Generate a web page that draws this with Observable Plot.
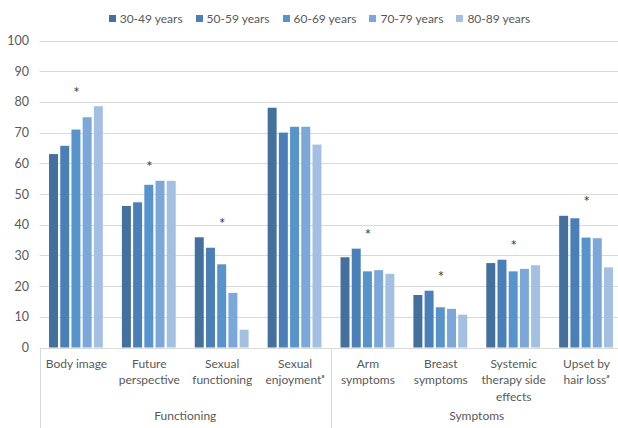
<!DOCTYPE html>
<html>
<head>
<meta charset="utf-8">
<script src="https://cdn.jsdelivr.net/npm/d3@7"></script>
<script src="https://cdn.jsdelivr.net/npm/@observablehq/plot@0.6"></script>
<style>
  html, body { margin: 0; padding: 0; background: #fff; }
  #chart { width: 618px; height: 428px; overflow: hidden; font-family: Lato, sans-serif; color: #595959; }
  #chart svg { display: block; }
</style>
</head>
<body>
<div id="chart"></div>
<script>
// Scale domains and categories
const ageGroups = ["30-49 years", "50-59 years", "60-69 years", "70-79 years", "80-89 years"];
const categories = [
  "Body image",
  "Future\nperspective",
  "Sexual\nfunctioning",
  "Sexual\nenjoymentᵃ",
  "Arm\nsymptoms",
  "Breast\nsymptoms",
  "Systemic\ntherapy side\neffects",
  "Upset by\nhair lossᵃ"
];
const scaleGroups = ["Functioning", "Symptoms"];
const groupOfCategory = [0, 0, 0, 0, 1, 1, 1, 1];

// Mean scores per age group, one value per category
const age30to49 = [63.0, 46.1, 35.9, 78.1, 29.4, 17.1, 27.5, 42.9];
const age50to59 = [65.7, 47.3, 32.5, 70.0, 32.2, 18.5, 28.6, 42.1];
const age60to69 = [71.0, 53.0, 27.1, 71.9, 24.8, 13.1, 24.8, 35.8];
const age70to79 = [75.0, 54.3, 17.8, 71.9, 25.2, 12.6, 25.6, 35.6];
const age80to89 = [78.6, 54.3, 5.8, 66.1, 24.0, 10.7, 26.8, 26.1];

// Significant differences between age groups (marked with *)
const significant = [true, true, true, false, true, true, true, true];

const yTicks = [0, 10, 20, 30, 40, 50, 60, 70, 80, 90, 100];
const palette = ["#44709d", "#4a80b7", "#5794cc", "#7ca8d9", "#a3c0e3"];

const series = [age30to49, age50to59, age60to69, age70to79, age80to89];
const rows = categories.flatMap((c, i) =>
  ageGroups.map((a, j) => ({category: c, age: a, value: series[j][i]})));
const stars = categories
  .map((c, i) => ({category: c, sig: significant[i], top: d3.max(series, s => s[i])}))
  .filter(d => d.sig);

const chart = document.getElementById("chart");

// Legend
const legend = Plot.legend({
  color: {type: "ordinal", domain: ageGroups, range: palette},
  swatchSize: 7
});
legend.style.cssText += ";display:flex;justify-content:center;align-items:center;box-sizing:border-box;width:618px;height:30px;min-height:30px;margin:0;padding:6px 0 0 21px;font:12px Lato, sans-serif;color:#595959;";
d3.select(legend).selectAll(":scope > span").style("margin-right", "13px").style("display", "inline-flex").style("align-items", "center");
d3.select(legend).selectAll(":scope > span:last-child").style("margin-right", "0px");
d3.select(legend).selectAll(":scope > span > svg").style("margin-right", "4px");
chart.appendChild(legend);

// Grouped bars
const plot = Plot.plot({
  width: 618,
  height: 398,
  marginLeft: 39.5,
  marginRight: -4.5,
  marginTop: 10.5,
  marginBottom: 80.5,
  style: {fontFamily: "Lato, sans-serif", fontSize: "12px", color: "#595959", background: "#fff"},
  fx: {domain: categories, paddingInner: 0.2, paddingOuter: 0.1, round: false, label: null},
  x: {domain: ageGroups, padding: 0.2, round: false, axis: null},
  y: {domain: [0, 100], label: null},
  color: {domain: ageGroups, range: palette},
  marks: [
    Plot.axisY({ticks: yTicks, tickSize: 0, tickPadding: 18.3, label: null, fontSize: 12.5}),
    Plot.axisFx({anchor: "bottom", tickSize: 0, tickPadding: 8, lineHeight: 1.38, label: null, fontSize: 12}),
    Plot.barY(rows, {fx: "category", x: "age", y: "value", fill: "age"}),
    Plot.text(stars, {fx: "category", y: d => d.top + 5.8, text: () => "*", dy: 4, fontSize: 15, fill: "#3a3a3a"})
  ]
});
chart.appendChild(plot);

// Frame lines, gridlines and scale-group labels drawn from the plot's own scales
const fx = plot.scale("fx");
const y = plot.scale("y");
const [x0, x1] = fx.range;
const n = categories.length;
const step = fx.step ?? (x1 - x0) / (n - fx.paddingInner + 2 * fx.paddingOuter);
const gap = step * fx.paddingInner;
const svg = d3.select(plot);
const bottom = 398;

const grid = svg.insert("g", ":first-child").attr("stroke", "#d9d9d9").attr("stroke-width", 1);
grid.selectAll("line.grid")
  .data(yTicks)
  .join("line")
  .attr("class", "grid")
  .attr("x1", x0).attr("x2", x1)
  .attr("y1", t => Math.round(y.apply(t)) + 0.5)
  .attr("y2", t => Math.round(y.apply(t)) + 0.5);

// boundaries of the two scale groups
const firstOf = g => groupOfCategory.indexOf(g);
const bounds = [x0, fx.apply(categories[firstOf(1)]) - gap / 2, x1];
const lines = svg.append("g").attr("stroke", "#d9d9d9").attr("stroke-width", 1);
lines.selectAll("line")
  .data(bounds)
  .join("line")
  .attr("x1", b => Math.round(b) + 0.5).attr("x2", b => Math.round(b) + 0.5)
  .attr("y1", Math.round(y.apply(0)) + 0.5)
  .attr("y2", bottom);

svg.append("g")
  .attr("font-family", "Lato, sans-serif")
  .attr("font-size", 12)
  .attr("fill", "#595959")
  .attr("text-anchor", "middle")
  .selectAll("text")
  .data(scaleGroups)
  .join("text")
  .attr("x", (g, i) => (bounds[i] + bounds[i + 1]) / 2)
  .attr("y", 390)
  .text(g => g);
</script>
</body>
</html>
